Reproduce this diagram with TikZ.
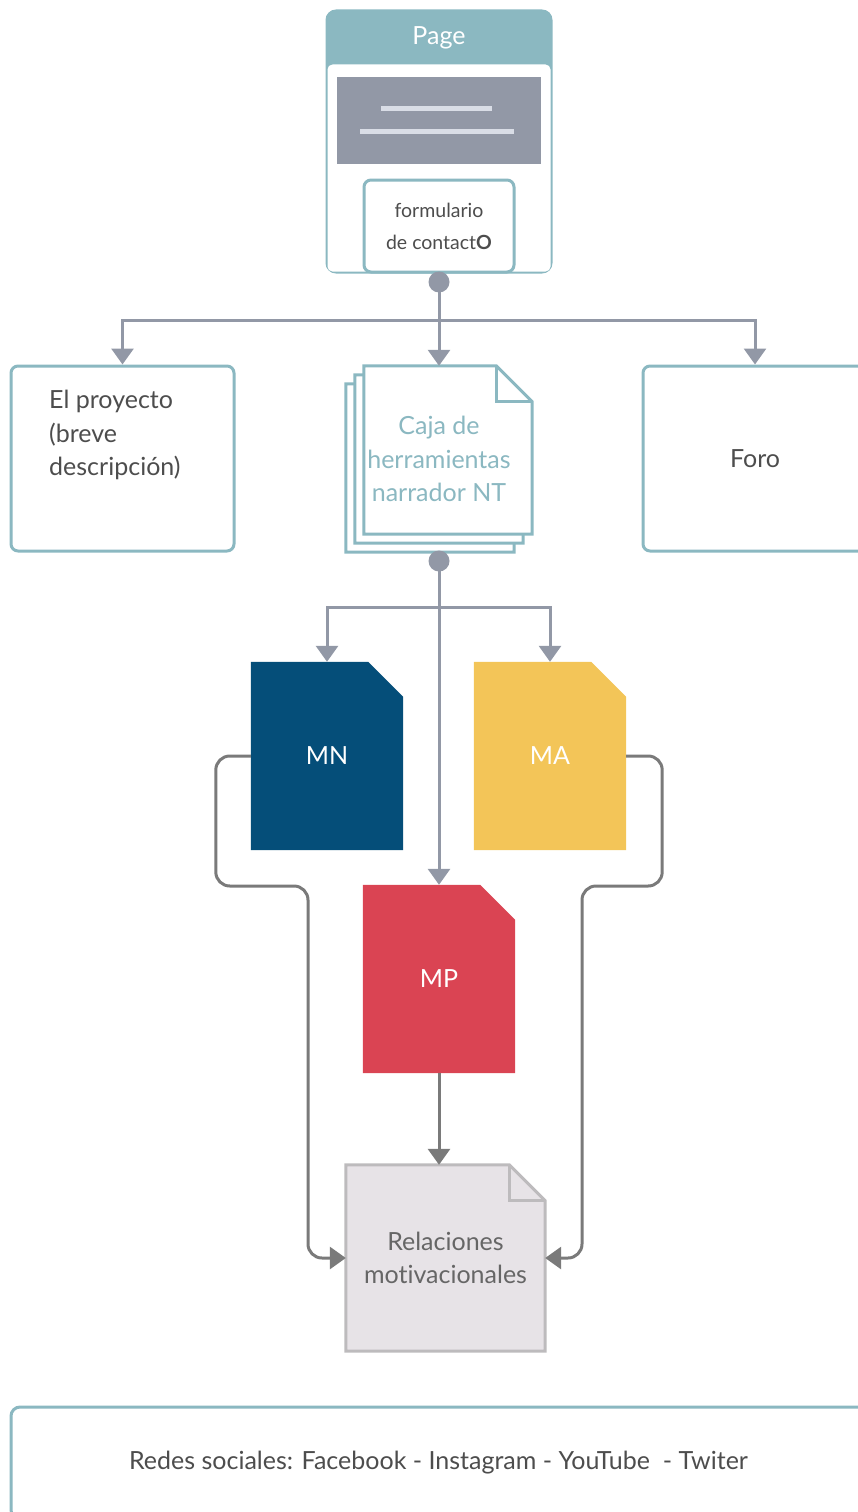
\documentclass[tikz,border=0pt]{standalone}
\usepackage{fontspec}
\setmainfont{Lato}[Ligatures=NoCommon]
\usetikzlibrary{positioning,backgrounds,arrows.meta}

\definecolor{tealframe}{HTML}{8BB8C1}
\definecolor{slate}{HTML}{9298A6}
\definecolor{bannerline}{HTML}{D9DDE6}
\definecolor{mnblue}{HTML}{054E79}
\definecolor{mayellow}{HTML}{F3C558}
\definecolor{mpred}{HTML}{DA4453}
\definecolor{relfill}{HTML}{E7E3E7}
\definecolor{reldraw}{HTML}{BDBBBD}
\definecolor{linkgray}{HTML}{7A7A7A}
\definecolor{reltext}{HTML}{666666}
\definecolor{textgray}{HTML}{4D4D4D}

% sheet with a folded corner round a node: style, node, fold
\newcommand{\dogear}[3]{%
	\path[#1] (#2.north west) -- ([xshift=-#3]#2.north east) -- ([yshift=-#3]#2.north east)
		-- (#2.south east) -- (#2.south west) -- cycle;}

\begin{document}
\begin{tikzpicture}[>={Triangle[width=22pt,length=16pt]}, x=1pt, y=-1pt,
	frame/.style={draw=tealframe, line width=3pt, rounded corners=7pt, fill=white},
	feed/.style={draw=slate, line width=3pt},
	link/.style={draw=linkgray, line width=3pt, rounded corners=14pt},
	hub/.style={circle, fill=slate, inner sep=0pt, minimum size=21pt},
	sheet/.style={inner sep=0pt, minimum width=152pt, minimum height=188pt, text=white,
		font=\fontsize{25}{30}\selectfont},
	txt/.style={text=textgray, font=\fontsize{25}{33.5}\selectfont, align=center}]
			%%%	Frame
			\useasboundingbox (0,0) rectangle (858,1512);
			\clip (0,0) rectangle (858,1512);
			%%%	Page card
			\node[draw=tealframe, fill=tealframe, line width=3pt, rounded corners=9pt,
				minimum width=224pt, minimum height=261pt] (page) at (439,141.5) {};
			\fill[white, rounded corners=5pt] ([xshift=2pt,yshift=-55pt]page.north west)
				rectangle ([xshift=-2pt,yshift=2pt]page.south east);
			\node[text=white, font=\fontsize{25}{30}\selectfont] (pagetitle) at (439,38) {Page};
			\node[fill=slate, inner sep=0pt, minimum width=204pt, minimum height=87pt] (banner) at (439,120.5) {};
			\draw[bannerline, line width=5pt] ([xshift=-58pt,yshift=12.5pt]banner.center) -- ++(111,0);
			\draw[bannerline, line width=5pt] ([xshift=-79pt,yshift=-10.5pt]banner.center) -- ++(154,0);
			\node[frame, minimum width=150pt, minimum height=92pt, text=textgray, align=center,
				font=\fontsize{19.5}{32}\selectfont] (form) at (439,226) {formulario\\de contact\textbf{O}};
			%%%	Second row
			\node[frame, minimum width=223pt, minimum height=185pt] (proj) at (122.5,458.5) {};
			\node[txt, align=left, anchor=west, inner sep=0pt] (projtext) at (49,435) {El proyecto\\(breve\\descripción)};
			\node[inner sep=0pt, minimum width=186pt, minimum height=186pt, text=tealframe,
				font=\fontsize{25}{33.5}\selectfont, align=center] (caja) at (439,459)
				{Caja de\\herramientas\\narrador NT};
			\node[frame, txt, minimum width=224pt, minimum height=185pt] (foro) at (755,458.5) {Foro};
			%%%	Documents
			\node[sheet] (mn) at (327,756) {MN};
			\node[sheet] (ma) at (550,756) {MA};
			\node[sheet] (mp) at (439,979) {MP};
			\node[inner sep=0pt, minimum width=199pt, minimum height=186pt, text=reltext,
				font=\fontsize{25}{33.5}\selectfont, align=center] (rel) at (445.5,1258) {Relaciones\\motivacionales};
			\begin{scope}[on background layer]
				\foreach \d/\e/\f in {18/0/54, 9/9/45, 0/18/36}
				\path[draw=tealframe, line width=3pt, fill=white]
					([xshift=\e pt,yshift=-\d pt]caja.north west) -- ([xshift=-\f pt,yshift=-\d pt]caja.north east)
					-- ([xshift=-\d pt,yshift=-\f pt]caja.north east) -- ([xshift=-\d pt,yshift=\e pt]caja.south east)
					-- ([xshift=\e pt,yshift=\e pt]caja.south west) -- cycle;
				\draw[tealframe, line width=3pt] ([xshift=-36pt]caja.north east) |- ([yshift=-36pt]caja.north east);
				\dogear{fill=mnblue}{mn}{35pt}
				\dogear{fill=mayellow}{ma}{35pt}
				\dogear{fill=mpred}{mp}{35pt}
				\dogear{fill=relfill, draw=reldraw, line width=3pt}{rel}{36pt}
				\draw[reldraw, line width=3pt] ([xshift=-36pt]rel.north east) |- ([yshift=-36pt]rel.north east);
			\end{scope}
			%%%	Connectors
			\coordinate (split1) at (439,320);
			\coordinate (split2) at (439,607);
			\coordinate (mnbend) at (308,886);
			\coordinate (mabend) at (582,886);
			\draw[feed] (form.south) -- (split1);
			\draw[feed,->] (split1) -| (proj.north);
			\draw[feed,->] (split1) -| (foro.north);
			\draw[feed,->] (split1) -- (caja.north);
			\draw[feed] (caja.south) -- (split2);
			\draw[feed,->] (split2) -| (mn.north);
			\draw[feed,->] (split2) -| (ma.north);
			\draw[feed,->] (split2) -- (mp.north);
			\node[hub] (hub1) at (439,282) {};
			\node[hub] (hub2) at (439,561) {};
			\draw[link,->] (mn.west) -- ++(-35,0) |- (mnbend) |- (rel.west);
			\draw[link,->] (ma.east) -- ++(36,0) |- (mabend) |- (rel.east);
			\draw[link,->] (mp.south) -- (mp.south |- rel.north);
			%%%	Footer
			\node[frame, txt, rounded corners=9pt, minimum width=855pt, minimum height=112pt,
				font=\fontsize{25}{30}\selectfont] (social) at (438.5,1463)
				{Redes sociales: Facebook - Instagram - YouTube \ - Twiter};
\end{tikzpicture}
\end{document}
